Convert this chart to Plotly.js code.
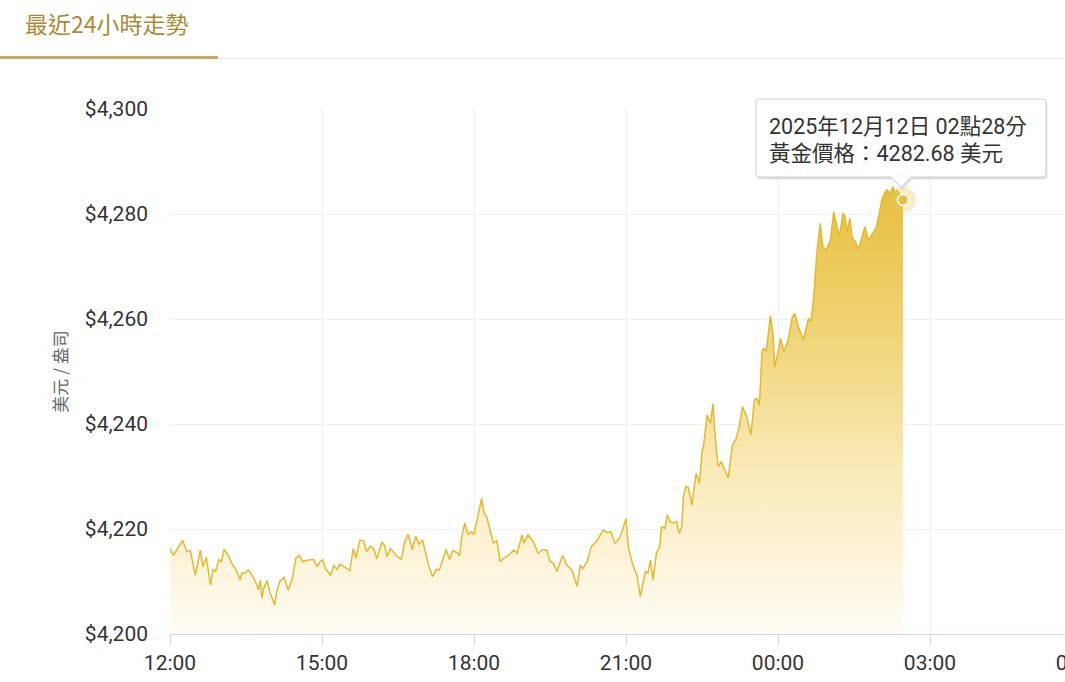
<!DOCTYPE html>
<html>
<head>
<meta charset="utf-8">
<script src="https://cdn.plot.ly/plotly-3.0.1.min.js"></script>
<style>
html,body{margin:0;padding:0;width:1065px;height:682px;overflow:hidden;background:#fff;}
#chart{position:absolute;left:0;top:0;width:1120px;height:682px;}
#tab{position:absolute;left:0;top:0;width:218px;height:56px;border-bottom:3px solid #c9aa6c;}
#tabtext{position:absolute;left:25px;top:6px;font-family:'Noto Sans CJK TC',sans-serif;font-size:23px;line-height:34px;color:#ab8a33;white-space:nowrap;}
#rule{position:absolute;left:218px;top:58px;width:847px;height:1px;background:#ececec;}
</style>
</head>
<body>
<div id="chart"></div>
<div id="tab"><div id="tabtext">最近24小時走勢</div></div>
<div id="rule"></div>
<script>
const tabTitle = "最近24小時走勢";
const yAxisTitle = "美元 / 盎司";
const times = ["12:00","12:04","12:15","12:20","12:24","12:30","12:36","12:39","12:43","12:48","12:51","12:54","12:58",
"13:01","13:04","13:09","13:13","13:18","13:23","13:25","13:29","13:33","13:37","13:41","13:45","13:47","13:49","13:51","13:55","13:58",
"14:04","14:06","14:10","14:15","14:20","14:25","14:29","14:33","14:37","14:44","14:50","14:54","14:58",
"15:01","15:04","15:10","15:14","15:18","15:21","15:27","15:33","15:37","15:40","15:45","15:49","15:53","15:57",
"16:01","16:05","16:11","16:14","16:17","16:21","16:24","16:28","16:34","16:38","16:42","16:47","16:51","16:55","16:59",
"17:03","17:07","17:11","17:15","17:19","17:23","17:27","17:31","17:35","17:40","17:43","17:45","17:49","17:53","17:57",
"18:00","18:04","18:09","18:12","18:15","18:19","18:23","18:27","18:31","18:35","18:41","18:47","18:51","18:57","18:59",
"19:04","19:10","19:16","19:21","19:26","19:30","19:34","19:38","19:45","19:50","19:56",
"20:02","20:06","20:09","20:14","20:19","20:25","20:29","20:33","20:38","20:42","20:47","20:52","20:56",
"21:00","21:03","21:07","21:11","21:13","21:17","21:20","21:23","21:26","21:29","21:32","21:36","21:40","21:42","21:46","21:49","21:52","21:56",
"22:00","22:03","22:06","22:08","22:11","22:14","22:18","22:21","22:23","22:27","22:30","22:32","22:36","22:40","22:43","22:45","22:49","22:53","22:57",
"23:01","23:06","23:10","23:14","23:18","23:23","23:28","23:32","23:35","23:38","23:41","23:43","23:46","23:51","23:54","23:56","23:59",
"00:03","00:07","00:12","00:17","00:20","00:24","00:30","00:36","00:39","00:42","00:46","00:50","00:53","00:57",
"01:02","01:06","01:10","01:13","01:17","01:19","01:22","01:25","01:28","01:32","01:35","01:39","01:43","01:47","01:51","01:56",
"02:00","02:03","02:07","02:09","02:13","02:16","02:19","02:21","02:28"];
const prices = [4216.3,4215.0,4217.8,4215.7,4215.9,4211.2,4216.0,4212.8,4214.6,4209.3,4212.3,4211.9,4214.2,
4213.8,4216.1,4215.0,4213.5,4212.3,4210.3,4211.6,4211.6,4212.2,4211.2,4210.0,4208.4,4210.3,4206.8,4208.7,4210.2,4208.1,
4205.5,4207.8,4210.0,4210.8,4208.4,4210.6,4214.4,4215.0,4213.8,4214.1,4214.2,4212.8,4213.8,
4214.1,4212.5,4211.2,4213.0,4212.3,4213.3,4212.7,4212.1,4216.3,4214.4,4217.9,4217.8,4215.7,4216.7,
4216.3,4214.4,4217.4,4217.0,4214.7,4216.3,4215.7,4214.9,4214.2,4217.6,4219.0,4216.1,4218.6,4217.1,4217.9,
4215.2,4212.7,4210.9,4212.3,4212.2,4214.4,4216.1,4214.2,4215.9,4215.5,4214.9,4218.0,4221.1,4219.0,4219.5,
4219.0,4222.3,4225.8,4223.0,4222.3,4219.8,4217.3,4217.9,4213.8,4214.4,4215.0,4216.0,4215.4,4218.9,4217.3,
4218.9,4217.6,4215.4,4216.0,4216.0,4213.8,4213.5,4211.9,4215.0,4213.1,4212.2,
4209.1,4213.1,4212.5,4213.8,4216.7,4217.6,4218.6,4219.8,4219.3,4219.5,4217.3,4218.2,4219.8,
4222.0,4216.3,4213.8,4211.9,4211.2,4207.1,4209.7,4211.9,4211.6,4214.1,4210.3,4215.4,4216.7,4220.4,4220.1,4222.7,4221.4,4221.1,
4221.4,4219.2,4220.4,4226.2,4228.1,4227.8,4224.6,4228.4,4230.6,4228.7,4234.7,4236.0,4241.7,4240.1,4243.9,4238.9,4231.9,4232.8,4231.2,
4229.7,4236.0,4237.0,4239.5,4243.3,4241.4,4237.9,4244.6,4244.9,4243.6,4253.8,4254.4,4253.8,4260.6,4257.3,4250.9,4252.8,
4256.3,4253.8,4256.0,4260.4,4261.0,4258.6,4256.0,4260.1,4259.5,4263.6,4272.5,4278.2,4273.8,4273.1,
4275.0,4280.4,4277.3,4276.0,4280.1,4279.8,4276.6,4279.2,4275.4,4274.7,4273.1,4275.4,4277.6,4275.0,4276.0,4277.3,
4280.1,4282.7,4284.3,4284.6,4283.9,4285.2,4283.9,4284.6,4282.68];
const yTicks = [4200,4220,4240,4260,4280,4300];
const xTickLabels = ["12:00","15:00","18:00","21:00","00:00","03:00","06:00"];

function toDate(t){ const h = parseInt(t.slice(0,2),10); return (h>=12 ? "2025-12-11 " : "2025-12-12 ") + t; }
function toMs(s){ return Date.parse(s.replace(' ','T') + ':00Z'); }
const xs = times.map(toDate);
const lastT = times[times.length-1], lastP = prices[prices.length-1];
const lastX = toDate(lastT);
const tip1 = "2025年12月12日 " + lastT.slice(0,2) + "點" + lastT.slice(3,5) + "分";
const tip2 = "黃金價格：" + lastP.toFixed(2) + " 美元";
const tickVals = xTickLabels.map((t,i)=> i===xTickLabels.length-1 ? "2025-12-12 06:00" : toDate(t));
const xRange = ['2025-12-11 12:00','2025-12-12 06:00'];
const yRange = [4200,4300];
const anchorPX = (toMs(lastX)-toMs(xRange[0]))/(toMs(xRange[1])-toMs(xRange[0]));
const anchorPY = (lastP-yRange[0])/(yRange[1]-yRange[0]);

function boxPath(dx,dy){
  const L=-147, R=143, T=101, B=23;
  const r=3;
  const parts = [
    "M"+(L+dx)+","+(B+r+dy),
    "L"+(L+dx)+","+(T-r+dy),
    "Q"+(L+dx)+","+(T+dy)+" "+(L+r+dx)+","+(T+dy),
    "L"+(R-r+dx)+","+(T+dy),
    "Q"+(R+dx)+","+(T+dy)+" "+(R+dx)+","+(T-r+dy),
    "L"+(R+dx)+","+(B+r+dy),
    "Q"+(R+dx)+","+(B+dy)+" "+(R-r+dx)+","+(B+dy),
    "L"+(8+dx)+","+(B+dy),
    "L"+(-2+dx)+","+(13+dy),
    "L"+(-12+dx)+","+(B+dy),
    "L"+(L+r+dx)+","+(B+dy),
    "Q"+(L+dx)+","+(B+dy)+" "+(L+dx)+","+(B+r+dy),
    "Z"];
  return parts.join(" ");
}
function tipShape(dx,dy,fill,line){
  return {type:'path', xref:'paper', yref:'paper', xsizemode:'pixel', ysizemode:'pixel',
    xanchor:anchorPX, yanchor:anchorPY, path:boxPath(dx,dy), fillcolor:fill, line:line, layer:'above'};
}

const traces = [
  {x: xs, y: prices, type:'scatter', mode:'lines', line:{color:'#e4b92e', width:1.5},
   fill:'tozeroy',
   fillgradient:{type:'vertical', start:4200, stop:4288,
     colorscale:[[0,'#fffcf4'],[0.35,'#f9eab8'],[0.7,'#efd06c'],[1,'#e5bd38']]},
   hoverinfo:'skip'},
  {x:[lastX], y:[lastP], type:'scatter', mode:'markers', marker:{size:26, color:'rgba(236,204,100,0.35)'}, hoverinfo:'skip'},
  {x:[lastX], y:[lastP], type:'scatter', mode:'markers', marker:{size:11, color:'#e8c040', line:{color:'#fff', width:1.5}}, hoverinfo:'skip'}
];

const layout = {
  width:1120, height:682,
  margin:{l:170, r:38, t:109, b:48},
  paper_bgcolor:'rgba(0,0,0,0)', plot_bgcolor:'#ffffff',
  showlegend:false,
  font:{family:'Roboto, "Noto Sans CJK TC", sans-serif', size:21, color:'#333333'},
  xaxis:{type:'date', range:xRange,
    tickmode:'array', tickvals:tickVals, ticktext:xTickLabels,
    showgrid:true, gridcolor:'#f1f1f1', gridwidth:1,
    showline:true, linecolor:'#ccd6eb', linewidth:1,
    ticks:'outside', ticklen:10, tickcolor:'#ccd6eb', zeroline:false, fixedrange:true,
    tickfont:{size:21, color:'#333'}},
  yaxis:{range:yRange, tickmode:'array', tickvals:yTicks,
    ticktext:yTicks.map(v=>'$'+v.toLocaleString('en-US')),
    showgrid:true, gridcolor:'#f1f1f1', zeroline:false, ticks:'', showline:false,
    ticklabelstandoff:21, fixedrange:true, tickfont:{size:21, color:'#333'},
    title:{text:yAxisTitle, standoff:12, font:{size:17, color:'#666', family:'"Noto Sans CJK TC", sans-serif'}}},
  shapes:[
    tipShape(2,-3,'rgba(0,0,0,0.06)',{width:0}),
    tipShape(1,-2,'rgba(0,0,0,0.07)',{width:0}),
    tipShape(0,0,'#ffffff',{color:'#d2d2d2', width:1})
  ],
  annotations:[
    {x:lastX, y:lastP, xref:'x', yref:'y', showarrow:false, xanchor:'left', yanchor:'middle',
     xshift:-136, yshift:73, text:tip1, font:{size:21.5, color:'#333', family:'Roboto, "Noto Sans CJK TC", sans-serif'}},
    {x:lastX, y:lastP, xref:'x', yref:'y', showarrow:false, xanchor:'left', yanchor:'middle',
     xshift:-136, yshift:46, text:tip2, font:{size:21.5, color:'#333', family:'Roboto, "Noto Sans CJK TC", sans-serif'}}
  ]
};
Plotly.newPlot('chart', traces, layout, {displayModeBar:false, staticPlot:true});
</script>
</body>
</html>
